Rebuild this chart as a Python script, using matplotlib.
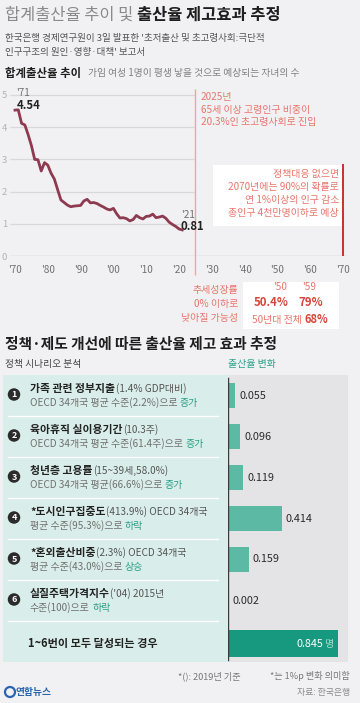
import matplotlib
matplotlib.use('Agg')
import matplotlib.pyplot as plt
from matplotlib.patches import Rectangle, Ellipse

plt.rcParams['font.family'] = ['Noto Sans CJK KR', 'DejaVu Sans']

# ---------------- data ----------------
years = list(range(1970, 2022))
tfr = [4.53, 4.54, 4.12, 4.07, 3.77, 3.43, 3.00, 2.99, 2.64, 2.90,
       2.82, 2.57, 2.39, 2.06, 1.74, 1.66, 1.58, 1.53, 1.55, 1.56,
       1.57, 1.71, 1.76, 1.65, 1.66, 1.63, 1.57, 1.52, 1.46, 1.43,
       1.48, 1.31, 1.18, 1.19, 1.16, 1.09, 1.13, 1.26, 1.19, 1.15,
       1.23, 1.24, 1.30, 1.19, 1.21, 1.24, 1.17, 1.05, 0.98, 0.92,
       0.84, 0.81]
first_label = ("'71", "4.54")
last_label = ("'21", "0.81")
xtick_years = [1970, 1980, 1990, 2000, 2010, 2020, 2030, 2040, 2050, 2060, 2070]
xtick_labels = ["'70", "'80", "'90", "'00", "'10", "'20", "'30", "'40", "'50", "'60", "'70"]
ytick_vals = [0, 1, 2, 3, 4, 5]
aging_year = 2025
forecast_year = 2070

scen_titles = ["가족 관련 정부지출", "육아휴직 실이용기간", "청년층 고용률",
               "*도시인구집중도", "*혼외출산비중", "실질주택가격지수"]
scen_extra = ["(1.4% GDP대비)", "(10.3주)", "(15~39세,58.0%)",
              "(413.9%) OECD 34개국", "(2.3%) OECD 34개국", "('04) 2015년"]
scen_line2 = ["OECD 34개국 평균 수준(2.2%)으로", "OECD 34개국 평균 수준(61.4주)으로",
              "OECD 34개국 평균(66.6%)으로", "평균 수준(95.3%)으로",
              "평균 수준(43.0%)으로", "수준(100)으로"]
scen_dir = ["증가", "증가", "증가", "하락", "상승", "하락"]
effects = [0.055, 0.096, 0.119, 0.414, 0.159, 0.002]
total_text = "1~6번이 모두 달성되는 경우"
total_effect = 0.845

# ---------------- style ----------------
BG = '#f1f1f3'
LINE = '#8e3a50'
SALMON = '#e8766c'
DEEPRED = '#d8443c'
TEAL = '#5cb9a4'
TEAL_DARK = '#16997e'
TEAL_TXT = '#2aa088'
PANEL = '#d9edea'
GRAYPANEL = '#e4e4e6'

W, H = 360, 703
fig = plt.figure(figsize=(W / 100, H / 100), dpi=100)
fig.patch.set_facecolor(BG)
renderer = fig.canvas.get_renderer()


def T(x, y, s, **kw):
    kw.setdefault('va', 'center')
    return fig.text(x / W, 1 - y / H, s, **kw)


def bl(yc, pt):
    return yc + 0.38 * pt * 100 / 72


def runs(x, yc, parts, gap=0.0):
    """parts: list of (text, size, color, weight)."""
    maxpt = max(p[1] for p in parts)
    yb = bl(yc, maxpt)
    for s, pt, col, wt in parts:
        t = T(x, yb, s, fontsize=pt, color=col, fontweight=wt, va='baseline', ha='left')
        bb = t.get_window_extent(renderer)
        x += bb.width + gap
    return x


def rect(x0, y0, x1, y1, color):
    fig.patches.append(Rectangle((x0 / W, 1 - y1 / H), (x1 - x0) / W, (y1 - y0) / H,
                                 transform=fig.transFigure, fc=color, ec='none', zorder=-1))


# ---------------- header ----------------
runs(5, 14, [("합계출산율 추이 및", 11.8, '#8a8a8a', 'normal'),
             ("출산율 제고효과 추정", 11.8, '#1e1e1e', 'bold')], gap=4)
T(5, 38, "한국은행 경제연구원이 3일 발표한 '초저출산 및 초고령사회:극단적",
  fontsize=6.9, color='#555555')
T(5, 52, "인구구조의 원인·영향·대책' 보고서", fontsize=6.9, color='#555555')

runs(5, 73, [("합계출산율 추이", 8.2, '#1e1e1e', 'bold')])
T(88, 73, "가임 여성 1명이 평생 낳을 것으로 예상되는 자녀의 수", fontsize=7.0, color='#808080')

# ---------------- line chart ----------------
px_per_year = 3.28
x0_px, y0_px, px_per_unit = 15, 256, 32.2
left_px, right_px, top_px = 10, 348, 90
ax = fig.add_axes([left_px / W, 1 - y0_px / H, (right_px - left_px) / W, (y0_px - top_px) / H])
ax.set_facecolor('none')
ax.set_xlim(1970 - (x0_px - left_px) / px_per_year, 1970 + (right_px - x0_px) / px_per_year)
ax.set_ylim(0, (y0_px - top_px) / px_per_unit)
for sp in ax.spines.values():
    sp.set_visible(False)

# white annotation boxes (behind the chart)
rect(213, 165, 342, 226, 'white')
rect(243, 282, 339, 329, 'white')

xmin = ax.get_xlim()[0]
ax.hlines([v for v in ytick_vals if v > 0], xmin, aging_year, color='#d9d9db', lw=0.9, zorder=1)
ax.hlines(0, xmin, forecast_year + 1, color='#c4c4c6', lw=1.0, zorder=1)
ax.vlines(aging_year, -0.6, 5.2, color='#eea79e', lw=1.0, clip_on=False, zorder=2)
ax.vlines(forecast_year, 0, 2.85, color='#c9302c', lw=1.4, zorder=3)

ax.plot(years, tfr, color=LINE, lw=2.0, solid_joinstyle='round', zorder=4)

ax.set_yticks(ytick_vals)
ax.set_yticklabels([str(v) for v in ytick_vals], fontsize=6.8, color='#b3b3b3')
ax.set_xticks(xtick_years)
ax.set_xticklabels(xtick_labels, fontsize=7.2, color='#707070')
ax.tick_params(axis='both', length=0)
ax.tick_params(axis='y', pad=2)
ax.tick_params(axis='x', pad=6.5)

# data labels
ax.annotate(first_label[0], (years[0], tfr[1]), xytext=(1, 12), textcoords='offset points',
            fontsize=7.2, color='#707070', ha='left', va='center')
ax.annotate(first_label[1], (years[0], tfr[1]), xytext=(1, 3), textcoords='offset points',
            fontsize=8.2, color='#222222', fontweight='bold', ha='left', va='center')
ax.annotate(last_label[0], (years[-1], tfr[-1]), xytext=(-1, 11), textcoords='offset points',
            fontsize=7.2, color='#707070', ha='left', va='center')
ax.annotate(last_label[1], (years[-1], tfr[-1]), xytext=(-1, 2.5), textcoords='offset points',
            fontsize=8.2, color='#222222', fontweight='bold', ha='left', va='center')

# annotations
for i, s in enumerate(["2025년", "65세 이상 고령인구 비중이", "20.3%인 초고령사회로 진입"]):
    T(201, 97 + 12.5 * i, s, fontsize=7.2, color=SALMON)

for i, s in enumerate(["정책대응 없으면", "2070년에는 90%의 확률로", "연 1%이상의 인구 감소",
                       "총인구 4천만명이하로 예상"]):
    T(339, 174 + 13 * i, s, fontsize=7.2, color=SALMON, ha='right', zorder=5)

for i, s in enumerate(["추세성장률", "0% 이하로", "낮아질 가능성"]):
    T(238, 290 + 14 * i, s, fontsize=7.2, color=SALMON, ha='right')
T(280, 287, "'50", fontsize=7.2, color=SALMON, ha='center')
T(309, 287, "'59", fontsize=7.2, color=SALMON, ha='center')
T(271, 302, "50.4%", fontsize=8.2, color=DEEPRED, ha='center', fontweight='bold')
T(311, 302, "79%", fontsize=8.2, color=DEEPRED, ha='center', fontweight='bold')
runs(252, 319, [("50년대 전체", 7.2, SALMON, 'normal'), ("68%", 8.0, DEEPRED, 'bold')], gap=2.5)

# ---------------- policy section ----------------
runs(5, 343, [("정책·제도 개선에 따른 출산율 제고 효과 추정", 10.6, '#1e1e1e', 'bold')])
T(5, 364, "정책 시나리오 분석", fontsize=7.0, color='#444444')
T(228, 364, "출산율 변화", fontsize=7.2, color=TEAL_TXT)

top, bot = 375, 662
nrows = len(effects) + 1
rowh = (bot - top) / nrows
rect(3, top, 228, bot, PANEL)
rect(228, top, 348, bot, GRAYPANEL)
for i in range(1, nrows):
    yy = top + rowh * i
    fig.lines.append(plt.Line2D([8 / W, 218 / W], [1 - yy / H, 1 - yy / H], transform=fig.transFigure,
                                color='white', lw=1.0, zorder=0))

for i in range(len(effects)):
    yc = top + rowh * (i + 0.5)
    fig.patches.append(Ellipse((14 / W, 1 - (yc - 1) / H), 12.5 / W, 12.5 / H, transform=fig.transFigure,
                               fc='#2b2b2b', ec='none', zorder=2))
    T(14, yc - 0.5, str(i + 1), fontsize=6.5, color='white', ha='center', fontweight='bold', zorder=3)
    runs(30, yc - 7.5, [(scen_titles[i], 7.8, '#222222', 'bold'),
                        (scen_extra[i], 7.2, '#555555', 'normal')], gap=0.5)
    runs(30, yc + 7, [(scen_line2[i], 7.2, '#707070', 'normal'),
                      (scen_dir[i], 7.2, TEAL_TXT, 'normal')], gap=2.5)

yc_tot = top + rowh * (nrows - 0.5)
runs(28, yc_tot + 1, [(total_text, 8.0, '#222222', 'bold')])

bax = fig.add_axes([228 / W, 1 - bot / H, 120 / W, (bot - top) / H])
bax.set_facecolor('none')
px_per_eff = 130
bax.set_xlim(0, 120 / px_per_eff)
bax.set_ylim(nrows, 0)
bax.axis('off')
rows = [i + 0.5 for i in range(len(effects))]
bax.barh(rows, effects, height=0.6, color=TEAL, zorder=2)
bax.barh([nrows - 0.45], [total_effect], height=0.64, color=TEAL_DARK, zorder=2)
for r, v in zip(rows, effects):
    bax.annotate(f"{v:.3f}", (v, r), xytext=(3, 0), textcoords='offset points',
                 fontsize=7.8, color='#2a2a2a', ha='left', va='center')
bax.annotate("명", (total_effect, nrows - 0.45), xytext=(-3.5, 0), textcoords='offset points',
             fontsize=7.2, color='#a6e0d2', ha='right', va='center')
bax.annotate(f"{total_effect:.3f}", (total_effect, nrows - 0.45), xytext=(-10.5, 0),
             textcoords='offset points', fontsize=7.8, color='white', ha='right', va='center')
bax.axvline(0, ymin=0.006, ymax=0.99, color='#3a3a3a', lw=1.0, zorder=5)

# ---------------- footer ----------------
T(178, 676, "*(): 2019년 기준", fontsize=6.6, color='#777777')
T(350, 676, "*는 1%p 변화 의미함", fontsize=6.6, color='#777777', ha='right')
T(350, 692, "자료: 한국은행", fontsize=6.4, color='#8a8a8a', ha='right')
fig.patches.append(Ellipse((10 / W, 1 - 692 / H), 10 / W, 10 / H, transform=fig.transFigure,
                           fc='none', ec='#2a64b0', lw=1.6, zorder=2))
T(15, 692, "연합뉴스", fontsize=7.0, color='#2a64b0', fontweight='bold')

fig.savefig('out.png', dpi=100, facecolor=BG)
